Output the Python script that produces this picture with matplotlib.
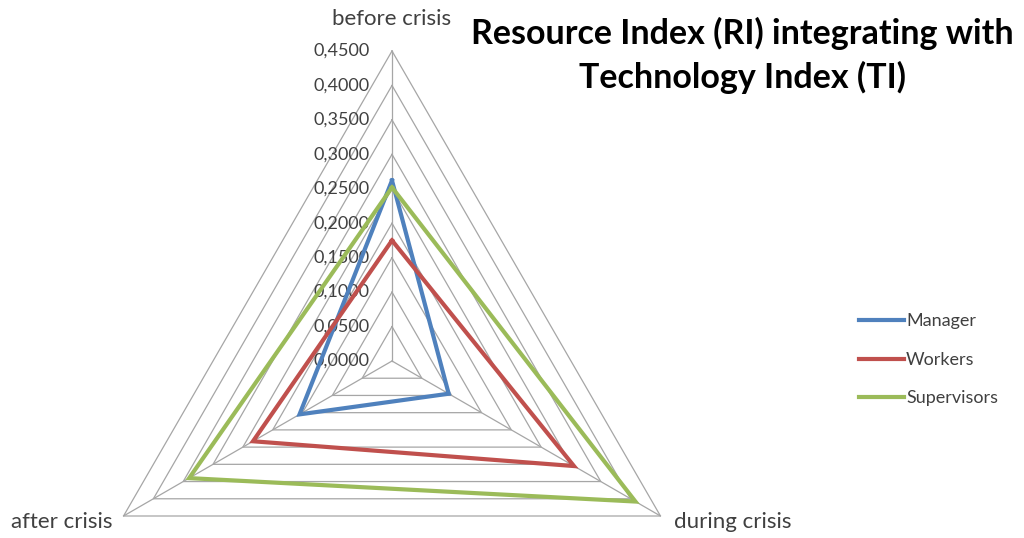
import numpy as np
import matplotlib.pyplot as plt

# data
categories = ['before crisis', 'during crisis', 'after crisis']
manager = [0.262, 0.095, 0.155]
workers = [0.175, 0.305, 0.233]
supervisors = [0.252, 0.408, 0.340]
ring_values = [0.05, 0.10, 0.15, 0.20, 0.25, 0.30, 0.35, 0.40, 0.45]
tick_values = [0.0, 0.05, 0.10, 0.15, 0.20, 0.25, 0.30, 0.35, 0.40, 0.45]

series = [('Manager', manager, '#4F81BD'),
          ('Workers', workers, '#C0504D'),
          ('Supervisors', supervisors, '#9BBB59')]

# axis directions: before at top, during lower right, after lower left
angles = np.radians([90, -30, 210])

plt.rcParams['font.family'] = ['Lato', 'DejaVu Sans']

W, H = 1024, 538
fig = plt.figure(figsize=(W / 100, H / 100), dpi=100)
ax = fig.add_axes([0, 0, 1, 1])

# center at pixel (392, 361), outer ring radius 310 px
cx, cy, rpx = 392, 361, 310
k = 0.45 / rpx
ax.set_xlim(-cx * k, (W - cx) * k)
ax.set_ylim((cy - H) * k, cy * k)
ax.axis('off')


def to_xy(vals):
    vals = np.asarray(vals)
    x = vals * np.cos(angles)
    y = vals * np.sin(angles)
    return np.append(x, x[0]), np.append(y, y[0])


# grid rings
for r in ring_values:
    x, y = to_xy([r] * 3)
    ax.plot(x, y, color='#a6a6a6', lw=0.9, zorder=1)

# spokes
rmax = ring_values[-1]
for a in angles:
    ax.plot([0, rmax * np.cos(a)], [0, rmax * np.sin(a)],
            color='#a6a6a6', lw=0.9, zorder=1)

# tick labels along the vertical axis
for t in tick_values:
    ax.text(-0.032, t, f'{t:.4f}'.replace('.', ','), ha='right', va='center',
            fontsize=13, color='#404040')

# category labels
ax.text(0, rmax + 0.046, categories[0], ha='center', va='center',
        fontsize=16, color='#404040')
ax.text(rmax * np.cos(angles[1]) + 0.020, rmax * np.sin(angles[1]) - 0.009,
        categories[1], ha='left', va='center', fontsize=16, color='#404040')
ax.text(rmax * np.cos(angles[2]) - 0.016, rmax * np.sin(angles[2]) - 0.009,
        categories[2], ha='right', va='center', fontsize=16, color='#404040')

# series
for name, vals, col in series:
    x, y = to_xy(vals)
    ax.plot(x, y, color=col, lw=3, label=name, zorder=3,
            solid_joinstyle='miter')

# title
fig.text(0.725, 0.897, 'Resource Index (RI) integrating with\nTechnology Index (TI)',
         ha='center', va='center', fontsize=24.5, fontweight='bold',
         linespacing=1.38, color='black')

# legend
ax.legend(loc='center left', bbox_to_anchor=(0.823, 0.331), frameon=False,
          fontsize=13, handlelength=2.5, handletextpad=0.1,
          labelspacing=1.25, labelcolor='#404040')

fig.savefig('out.png', dpi=100)
